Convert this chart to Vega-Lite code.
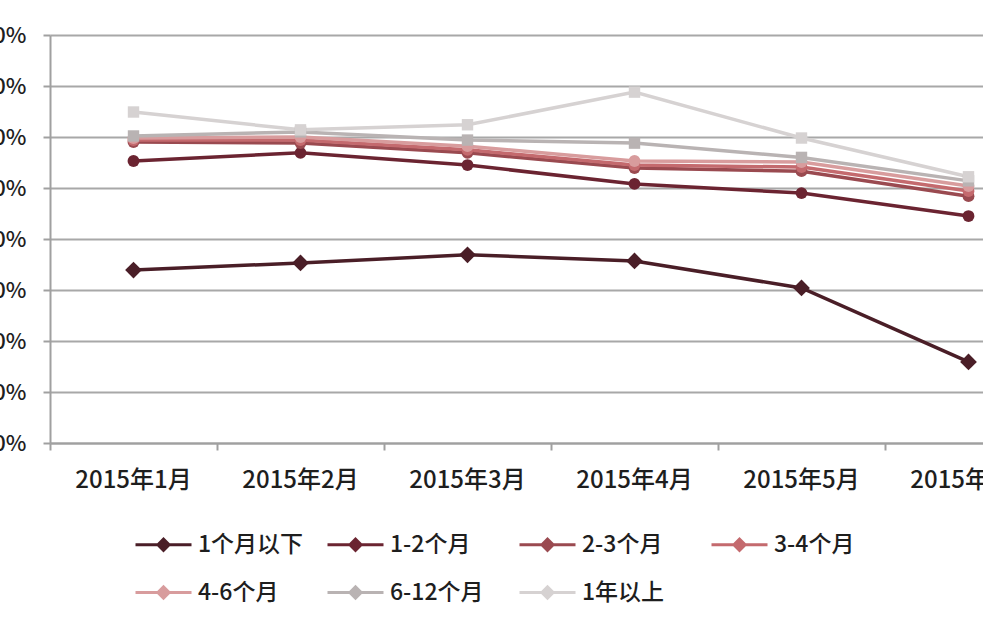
{
  "$schema": "https://vega.github.io/schema/vega-lite/v6.json",
  "width": 1002,
  "height": 408,
  "autosize": {"type": "none"},
  "padding": {"left": 50, "top": 35, "right": 0, "bottom": 190},
  "background": "white",
  "config": {
    "view": {"stroke": null},
    "font": "Noto Sans CJK SC"
  },
  "data": {
    "values": [
      {"month": "2015年1月", "series": "1个月以下", "value": 33.9},
      {"month": "2015年2月", "series": "1个月以下", "value": 35.3},
      {"month": "2015年3月", "series": "1个月以下", "value": 36.9},
      {"month": "2015年4月", "series": "1个月以下", "value": 35.7},
      {"month": "2015年5月", "series": "1个月以下", "value": 30.4},
      {"month": "2015年6月", "series": "1个月以下", "value": 15.9},
      {"month": "2015年1月", "series": "1-2个月", "value": 55.3},
      {"month": "2015年2月", "series": "1-2个月", "value": 56.9},
      {"month": "2015年3月", "series": "1-2个月", "value": 54.5},
      {"month": "2015年4月", "series": "1-2个月", "value": 50.8},
      {"month": "2015年5月", "series": "1-2个月", "value": 49.0},
      {"month": "2015年6月", "series": "1-2个月", "value": 44.5},
      {"month": "2015年1月", "series": "2-3个月", "value": 59.0},
      {"month": "2015年2月", "series": "2-3个月", "value": 58.8},
      {"month": "2015年3月", "series": "2-3个月", "value": 56.9},
      {"month": "2015年4月", "series": "2-3个月", "value": 53.9},
      {"month": "2015年5月", "series": "2-3个月", "value": 53.3},
      {"month": "2015年6月", "series": "2-3个月", "value": 48.4},
      {"month": "2015年1月", "series": "3-4个月", "value": 59.4},
      {"month": "2015年2月", "series": "3-4个月", "value": 59.4},
      {"month": "2015年3月", "series": "3-4个月", "value": 57.5},
      {"month": "2015年4月", "series": "3-4个月", "value": 54.5},
      {"month": "2015年5月", "series": "3-4个月", "value": 54.1},
      {"month": "2015年6月", "series": "3-4个月", "value": 49.4},
      {"month": "2015年1月", "series": "4-6个月", "value": 59.8},
      {"month": "2015年2月", "series": "4-6个月", "value": 60.0},
      {"month": "2015年3月", "series": "4-6个月", "value": 58.2},
      {"month": "2015年4月", "series": "4-6个月", "value": 55.3},
      {"month": "2015年5月", "series": "4-6个月", "value": 55.1},
      {"month": "2015年6月", "series": "4-6个月", "value": 50.4},
      {"month": "2015年1月", "series": "6-12个月", "value": 60.2},
      {"month": "2015年2月", "series": "6-12个月", "value": 61.0},
      {"month": "2015年3月", "series": "6-12个月", "value": 59.4},
      {"month": "2015年4月", "series": "6-12个月", "value": 58.8},
      {"month": "2015年5月", "series": "6-12个月", "value": 56.0},
      {"month": "2015年6月", "series": "6-12个月", "value": 51.4},
      {"month": "2015年1月", "series": "1年以上", "value": 64.9},
      {"month": "2015年2月", "series": "1年以上", "value": 61.4},
      {"month": "2015年3月", "series": "1年以上", "value": 62.4},
      {"month": "2015年4月", "series": "1年以上", "value": 68.8},
      {"month": "2015年5月", "series": "1年以上", "value": 59.8},
      {"month": "2015年6月", "series": "1年以上", "value": 52.2}
    ]
  },
  "encoding": {
    "x": {
      "field": "month",
      "type": "ordinal",
      "sort": null,
      "scale": {"type": "band", "paddingInner": 0, "paddingOuter": 0},
      "axis": {
        "title": null,
        "labelAngle": 0,
        "labelFontSize": 24,
        "labelFontWeight": 500,
        "labelColor": "#1e1e1e",
        "labelPadding": 18,
        "domainColor": "#a0a0a0",
        "domainWidth": 2,
        "ticks": true,
        "tickSize": 7,
        "tickColor": "#a0a0a0",
        "tickWidth": 2,
        "bandPosition": 0,
        "grid": false
      }
    },
    "y": {
      "field": "value",
      "type": "quantitative",
      "scale": {"domain": [0, 80], "nice": false},
      "axis": {
        "title": null,
        "values": [0, 10, 20, 30, 40, 50, 60, 70, 80],
        "labelExpr": "datum.value + '%'",
        "labelFontSize": 22,
        "labelFontWeight": 500,
        "labelColor": "#1e1e1e",
        "labelPadding": 17,
        "domainColor": "#a0a0a0",
        "domainWidth": 2,
        "tickSize": 7,
        "tickColor": "#a0a0a0",
        "tickWidth": 2,
        "grid": true,
        "gridColor": "#a8a8a8",
        "gridWidth": 2
      }
    },
    "color": {
      "field": "series",
      "type": "nominal",
      "scale": {
        "domain": ["1个月以下", "1-2个月", "2-3个月", "3-4个月", "4-6个月", "6-12个月", "1年以上"],
        "range": ["#4a1e27", "#6b2431", "#9a4a50", "#c46a6e", "#d89c9d", "#b9b3b3", "#d6d2d2"]
      },
      "legend": {
        "orient": "none",
        "legendX": 84,
        "legendY": 480,
        "direction": "horizontal",
        "columns": 4,
        "gridAlign": "all",
        "title": null,
        "symbolType": "M-1,0H1M-0.2,0L0,-0.2L0.2,0L0,0.2Z",
        "symbolSize": 3136,
        "symbolStrokeWidth": 3,
        "labelFontSize": 23,
        "labelFontWeight": 500,
        "labelColor": "#1e1e1e",
        "labelOffset": 5,
        "columnPadding": 17,
        "rowPadding": 6,
        "labelLimit": 300,
        "encode": {
          "symbols": {
            "update": {
              "fill": {"scale": "color", "field": "value"},
              "stroke": {"scale": "color", "field": "value"},
              "opacity": {"value": 1}
            }
          }
        }
      }
    }
  },
  "layer": [
    {
      "mark": {"type": "line", "strokeWidth": 3.5}
    },
    {
      "transform": [{"filter": "datum.series === '1个月以下'"}],
      "mark": {"type": "point", "shape": "diamond", "size": 280, "filled": true, "opacity": 1}
    },
    {
      "transform": [{"filter": {"field": "series", "oneOf": ["1-2个月", "2-3个月", "3-4个月", "4-6个月"]}}],
      "mark": {"type": "point", "shape": "circle", "size": 140, "filled": true, "opacity": 1}
    },
    {
      "transform": [{"filter": {"field": "series", "oneOf": ["6-12个月", "1年以上"]}}],
      "mark": {"type": "point", "shape": "square", "size": 130, "filled": true, "opacity": 1}
    }
  ]
}
